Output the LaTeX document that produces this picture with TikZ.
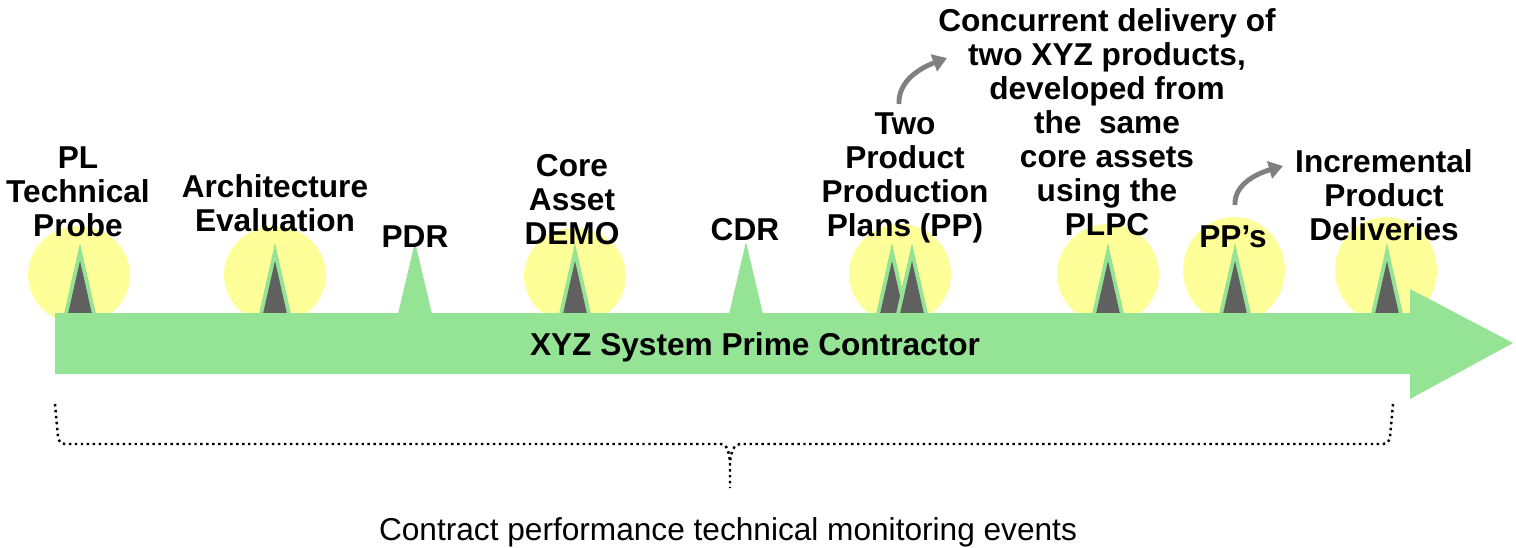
\documentclass[tikz,border=0pt]{standalone}
\usepackage{fontspec}
\setmainfont{Liberation Sans}
\usetikzlibrary{arrows.meta}
\definecolor{agreen}{RGB}{149,227,149}
\definecolor{ayellow}{RGB}{255,255,153}
\definecolor{adark}{RGB}{96,96,96}
\definecolor{agray}{RGB}{128,128,128}
\tikzset{
  lab/.style={font=\fontsize{18}{19.4}\selectfont\bfseries, inner sep=0pt, anchor=base},
  plain/.style={font=\fontsize{18}{19.4}\selectfont, inner sep=0pt, anchor=base},
  halo/.style={fill=ayellow},
  greentri/.style={fill=agreen},
  darktri/.style={fill=adark},
  curvearrow/.style={draw=agray, line width=2.8pt, -{Triangle[length=8pt,width=10pt]}},
  dotbrace/.style={line width=1.4pt, dash pattern=on 1.4pt off 2pt, line join=round}
}
\newcommand{\stack}[1]{\begin{tabular}[t]{@{}c@{}}#1\end{tabular}}
\begin{document}
\begin{tikzpicture}[x=0.02cm,y=-0.02cm]
\useasboundingbox (0,0) rectangle (1516,548);
% yellow halos
\fill[halo] (79,275) ellipse [x radius=1.02cm, y radius=0.98cm];
\fill[halo] (275,275) ellipse [x radius=1.02cm, y radius=0.98cm];
\fill[halo] (575,276) ellipse [x radius=1.02cm, y radius=0.96cm];
\fill[halo] (900,274) ellipse [x radius=1.02cm, y radius=1.0cm];
\fill[halo] (1108,274) ellipse [x radius=1.02cm, y radius=1.0cm];
\fill[halo] (1234,270) ellipse [x radius=1.02cm, y radius=1.06cm];
\fill[halo] (1386,270) ellipse [x radius=1.02cm, y radius=1.06cm];
% milestone triangles
\foreach \cx in {80,275,575,892,912,1108,1235,1387} {
  \fill[greentri] (\cx,243) -- ({\cx+16},314) -- ({\cx-16},314) -- cycle;
  \fill[darktri] (\cx,261) -- ({\cx+12},314) -- ({\cx-12},314) -- cycle;
}
% plain review triangles
\foreach \cx in {415,746} {
  \fill[greentri] (\cx,242) -- ({\cx+17},314) -- ({\cx-17},314) -- cycle;
}
% main arrow
\fill[agreen] (55,313) -- (1410,313) -- (1410,289) -- (1513,343) -- (1410,399) -- (1410,374) -- (55,374) -- cycle;
% labels
\node[lab] (probe) at (78,168) {\stack{PL\\Technical\\Probe}};
\node[lab] (arch) at (275,197) {\stack{Architecture\\Evaluation}};
\node[lab] (pdr) at (415,247) {PDR};
\node[lab] (demo) at (572,176) {\stack{Core\\Asset\\DEMO}};
\node[lab] (cdr) at (745,240) {CDR};
\node[lab] (two) at (905,134) {\stack{Two\\Product\\Production\\Plans (PP)}};
\node[lab] (conc) at (1107,31) {\stack{Concurrent delivery of\\two XYZ products,\\developed from\\the\ \ same\\core assets\\using the\\PLPC}};
\node[lab] (pps) at (1233,247) {PP’s};
\node[lab] (incr) at (1384,172) {\stack{Incremental\\Product\\Deliveries}};
\node[lab] (prime) at (755,355) {XYZ System Prime Contractor};
\node[plain] (events) at (728,540) {Contract performance technical monitoring events};
% curved arrows
\coordinate (a1s) at (899,104);
\coordinate (a1e) at (947,58);
\coordinate (a2s) at (1235,205);
\coordinate (a2e) at (1283,166);
\draw[curvearrow] (a1s) .. controls (898,84) and (915,70) .. (a1e);
\draw[curvearrow] (a2s) .. controls (1234,187) and (1252,175) .. (a2e);
% dotted brace
\coordinate (bl) at (55,404);
\coordinate (br) at (1393,404);
\coordinate (bm) at (730,488);
\draw[dotbrace] (bl) -- (58,437) .. controls (59,442) and (61,444) .. (66,444) -- (721,444) .. controls (727,444) and (729,452) .. (730,462) -- (bm);
\draw[dotbrace] (br) -- (1390,437) .. controls (1389,442) and (1387,444) .. (1382,444) -- (740,444) .. controls (734,444) and (731,452) .. (730,462);
\end{tikzpicture}
\end{document}
